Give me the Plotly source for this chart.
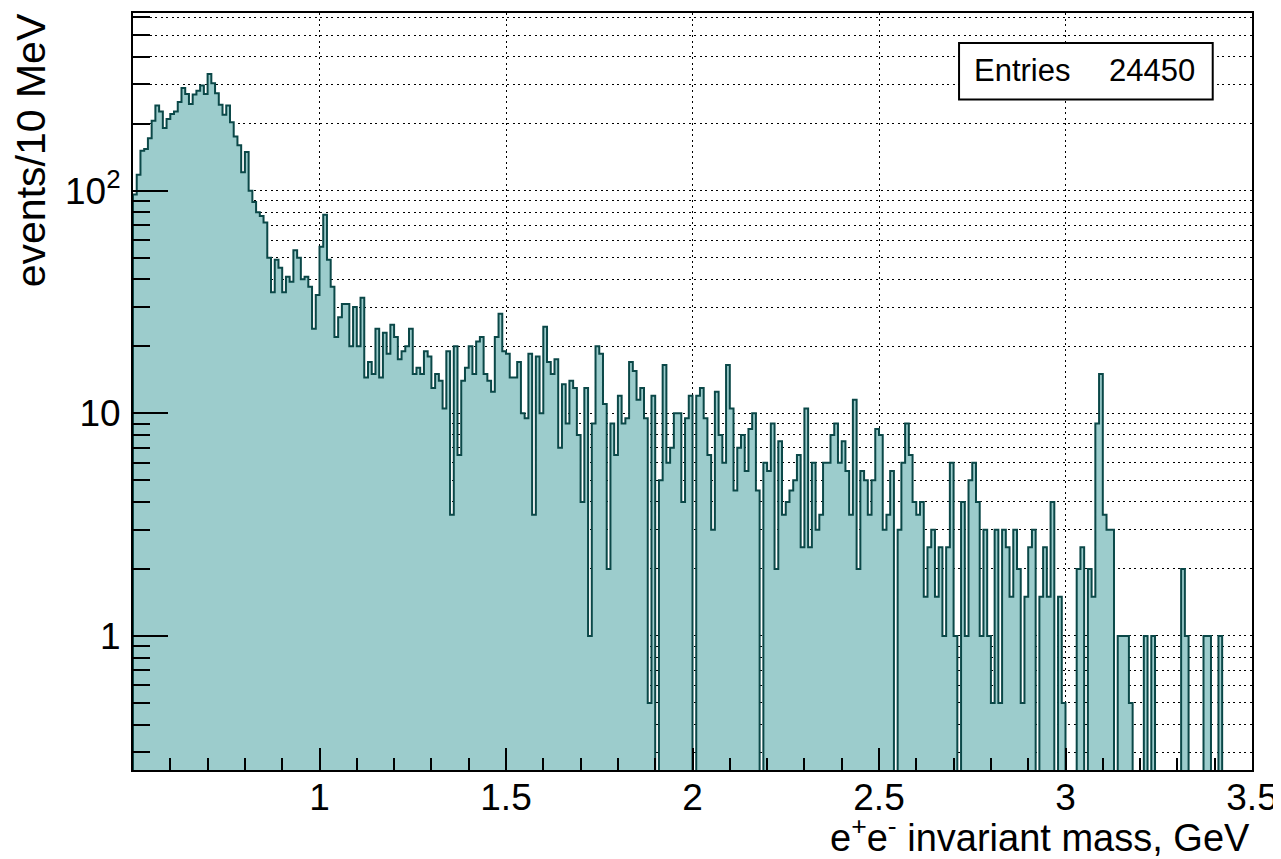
import plotly.graph_objects as go
import numpy as np

# ---------------- data ----------------
bin_low = 0.5      # GeV
bin_width = 0.01   # GeV (10 MeV)
n_bins = 300

counts = [
    # 0.50 - 1.01
    96, 118, 151, 154, 172, 206, 241, 227, 191, 210,
    221, 227, 250, 289, 272, 245, 270, 281, 297, 272,
    334, 304, 274, 243, 219, 241, 203, 175, 160, 121,
    149, 100, 89, 80, 77, 72, 50, 35, 49, 45,
    35, 41, 39, 54, 50, 40, 41, 37, 24, 34,
    56, 78,
    # 1.02 - 1.53
    49, 37, 22, 27, 31, 31, 20, 30, 20, 33,
    14.5, 17, 15, 24, 14.5, 23, 18.5, 25, 22, 17.5,
    19, 20, 24, 15, 16, 15, 19, 18, 13, 15,
    14, 10.5, 19, 3.5, 20, 6.5, 14, 16, 20, 15,
    21, 22, 15, 14, 12.5, 22, 28, 19, 18.5, 14.5,
    14.5, 17,
    # 1.54 - 2.02
    10, 9.5, 18.5, 3.5, 18, 10, 24.5, 17, 15, 17.5,
    7, 13.5, 9, 14, 13, 8, 4, 13, 1, 9,
    20, 18.5, 11, 2, 9, 6.5, 12, 9, 9.5, 17,
    15.5, 11.5, 13, 9.5, 0.5, 12, 0, 5, 16.5, 6,
    7, 10, 10, 4, 9.5, 12, 0, 12, 13,
    # 2.03 - 2.51
    9.5, 6.5, 3, 12.5, 8, 6, 16.5, 10.5, 4.5, 7,
    8, 5.5, 8.5, 10, 4.5, 0, 6, 5.5, 9, 2,
    7.5, 3.5, 4, 4.5, 5, 6.5, 2.5, 10.5, 2.5, 6,
    3, 3.5, 6, 6, 8, 9, 6, 7.5, 5.5, 3.5,
    11.5, 2, 5.5, 5, 3.5, 5, 8.5, 8, 3,
    # 2.52 - 2.99
    3.5, 5.5, 0, 3, 6, 9, 6.5, 4, 3.5, 4,
    1.5, 2.5, 3, 1.5, 2.5, 1, 2.5, 6, 1, 0,
    4, 1, 5, 6, 4, 1, 3, 1, 0.5, 3,
    0.5, 3, 2.5, 1.5, 3, 2, 0.5, 1.5, 2.5, 3,
    0, 1.5, 2.5, 1.5, 4, 0, 1.5, 0.5,
    # 3.00 - 3.49
    0, 0, 0, 2, 2.5, 0, 2, 1.5, 9, 15,
    3.5, 3, 3, 0, 1, 1, 1, 0.5, 0, 0,
    0, 1, 0, 1, 0, 0, 0, 0, 0, 0,
    0, 2, 1, 0, 0, 0, 0, 1, 1, 0,
    0, 1, 0, 0, 0, 0, 0, 0, 0, 0,
]

entries_label = "Entries"
entries_value = "24450"

x_tick_vals = [1, 1.5, 2, 2.5, 3, 3.5]
x_tick_text = ["1", "1.5", "2", "2.5", "3", "3.5"]
y_tick_vals = [1, 10, 100]
y_tick_text = ["1", "10", "10<sup>2</sup>"]

x_title = "e<sup>+</sup>e<sup>-</sup> invariant mass, GeV"
y_title = "events/10 MeV"

# ---------------- build step outline ----------------
counts = (list(counts) + [0] * n_bins)[:n_bins]
edges = bin_low + bin_width * np.arange(n_bins + 1)
floor_val = 1e-3  # below visible range: empty bins drop to the frame
xs, ys = [edges[0]], [floor_val]
for i, c in enumerate(counts):
    v = c if c > 0 else floor_val
    xs += [edges[i], edges[i + 1]]
    ys += [v, v]
xs.append(edges[-1])
ys.append(floor_val)

FONT = "Liberation Sans, Arial, Helvetica, sans-serif"

fig = go.Figure()
fig.add_trace(go.Scatter(
    x=xs, y=ys, mode="lines", fill="toself",
    fillcolor="#9ccccc",
    line=dict(color="#0b4848", width=2),
    hoverinfo="skip", showlegend=False,
))

x_minor = [round(0.5 + 0.1 * k, 2) for k in range(1, 30)]
x_minor = [v for v in x_minor if v not in x_tick_vals]
y_minor = []
for dec in [0.1, 1, 10, 100]:
    for m in range(2, 10):
        val = m * dec
        if 0.25 <= val <= 628:
            y_minor.append(val)

grid_dash = "2px,3.5px"

# the page body has an 8px margin, so the figure is 8px smaller
fig.update_layout(
    width=1273, height=851,
    margin=dict(l=125, r=29, t=3, b=89),
    paper_bgcolor="white", plot_bgcolor="white",
    font=dict(family=FONT, color="black"),
    showlegend=False,
    xaxis=dict(
        range=[0.5, 3.5],
        tickmode="array", tickvals=x_tick_vals, ticktext=x_tick_text,
        ticks="inside", ticklen=22, tickwidth=2, tickcolor="black",
        showgrid=True, gridcolor="black", gridwidth=1.3, griddash=grid_dash,
        minor=dict(tickmode="array", tickvals=x_minor, ticks="inside",
                   ticklen=12, tickwidth=2, tickcolor="black", showgrid=False),
        showline=True, linecolor="black", linewidth=2, mirror=True,
        zeroline=False,
        tickfont=dict(size=37, family=FONT, color="black"),
        ticklabelstandoff=-6,
    ),
    yaxis=dict(
        type="log",
        range=[np.log10(0.25), np.log10(628)],
        tickmode="array", tickvals=y_tick_vals, ticktext=y_tick_text,
        ticks="inside", ticklen=35, tickwidth=2, tickcolor="black",
        showgrid=True, gridcolor="black", gridwidth=1.3, griddash=grid_dash,
        minor=dict(tickmode="array", tickvals=y_minor, ticks="inside",
                   ticklen=17, tickwidth=2, tickcolor="black",
                   showgrid=True, gridcolor="black", gridwidth=1.3,
                   griddash=grid_dash),
        showline=True, linecolor="black", linewidth=2, mirror=True,
        zeroline=False,
        tickfont=dict(size=37, family=FONT, color="black"),
        ticklabelstandoff=3,
    ),
)

# stats box
fig.add_shape(type="rect", xref="paper", yref="paper",
              x0=0.7382, x1=0.9649, y0=0.8858, y1=0.9605,
              line=dict(color="black", width=2), fillcolor="white",
              layer="above")
fig.add_annotation(text=entries_label, xref="paper", yref="paper",
                   x=0.7496, y=0.9245, xanchor="left", yanchor="middle",
                   showarrow=False, font=dict(size=31, family=FONT, color="black"))
fig.add_annotation(text=entries_value, xref="paper", yref="paper",
                   x=0.9505, y=0.9245, xanchor="right", yanchor="middle",
                   showarrow=False, font=dict(size=31, family=FONT, color="black"))

# axis titles (ROOT style: aligned to the axis end)
fig.add_annotation(text=y_title, xref="paper", yref="paper",
                   x=-0.091, y=0.8189, xanchor="center", yanchor="middle",
                   textangle=-90, showarrow=False,
                   font=dict(size=41, family=FONT, color="black"))
fig.add_annotation(text=x_title, xref="paper", yref="paper",
                   x=1.0, y=-0.086, xanchor="right", yanchor="middle",
                   showarrow=False,
                   font=dict(size=38, family=FONT, color="black"))

fig.write_html("out.html")
